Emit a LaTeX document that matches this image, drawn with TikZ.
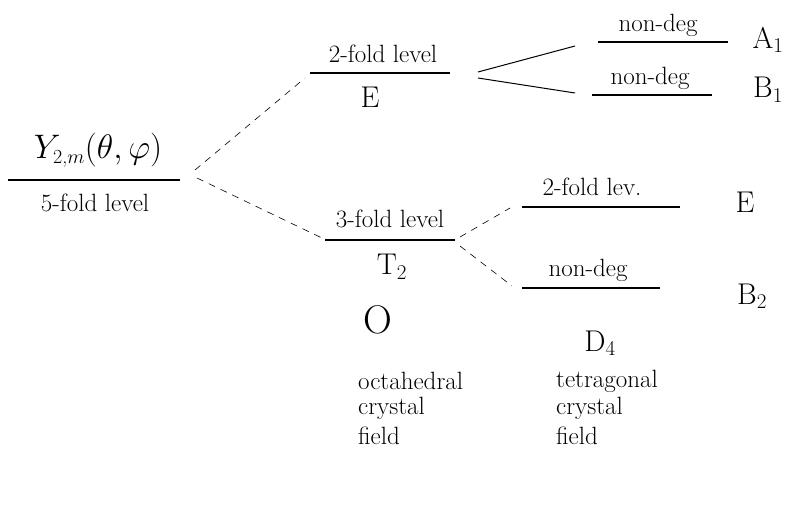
\RequirePackage{fix-cm}
\documentclass[tikz,border=0pt]{standalone}
\begin{document}
\begin{tikzpicture}[x=1pt,y=-1pt,
  txt/.style={inner sep=0pt,font=\fontsize{25}{28}\selectfont},
  big/.style={inner sep=0pt,font=\fontsize{30}{34}\selectfont},
  lvl/.style={line width=1.7pt},
  split/.style={line width=0.6pt,dash pattern=on 7pt off 6pt},
  solidsplit/.style={line width=1pt}]
\useasboundingbox (0,0) rectangle (787,509);
% left level
\coordinate (L0a) at (8,180); \coordinate (L0b) at (180,180);
\draw[lvl] (L0a) -- (L0b);
\node[big,font=\fontsize{34}{38}\selectfont] (Y) at (98,150) {$Y_{\hbox{\fontsize{20}{22}\selectfont 2,$m$}}(\theta,\varphi)$};
\node[txt] (f5) at (95,203) {5-fold level};
\coordinate (s0u) at (195,170); \coordinate (s0d) at (197,178);
% 2-fold level
\coordinate (L1a) at (310,73); \coordinate (L1b) at (450,73);
\draw[lvl] (L1a) -- (L1b);
\node[txt] (f2) at (383,54) {2-fold level};
\node[big] (E1) at (370,97) {E};
\coordinate (e1u) at (305,78);
\draw[split] (s0u) -- (e1u);
% 3-fold level
\coordinate (L2a) at (325,240); \coordinate (L2b) at (455,240);
\draw[lvl] (L2a) -- (L2b);
\node[txt] (f3) at (390,219) {3-fold level};
\node[big] (T2) at (392,267) {T$_2$};
\coordinate (t2u) at (322,238);
\draw[split] (s0d) -- (t2u);
% splitting of E
\coordinate (e1r1) at (478,72); \coordinate (e1r2) at (478,78);
\coordinate (a1l) at (575,46); \coordinate (b1l) at (575,93);
\draw[solidsplit] (e1r1) -- (a1l);
\draw[solidsplit] (e1r2) -- (b1l);
\coordinate (LA1a) at (598,42); \coordinate (LA1b) at (728,42);
\draw[lvl] (LA1a) -- (LA1b);
\node[txt] (nd1) at (658,25) {non-deg};
\node[big] (A1) at (768,40) {A$_1$};
\coordinate (LB1a) at (592,95); \coordinate (LB1b) at (712,95);
\draw[lvl] (LB1a) -- (LB1b);
\node[txt] (nd2) at (650,78) {non-deg};
\node[big] (B1) at (768,90) {B$_1$};
% splitting of T2
\coordinate (t2r1) at (460,237); \coordinate (t2r2) at (460,246);
\coordinate (el) at (510,208); \coordinate (b2l) at (512,286);
\draw[split] (t2r1) -- (el);
\draw[split] (t2r2) -- (b2l);
\coordinate (LEa) at (522,207); \coordinate (LEb) at (680,207);
\draw[lvl] (LEa) -- (LEb);
\node[txt] (f2b) at (592,187) {2-fold lev.};
\node[big] (E2) at (745,202) {E};
\coordinate (LB2a) at (522,288); \coordinate (LB2b) at (660,288);
\draw[lvl] (LB2a) -- (LB2b);
\node[txt] (nd3) at (588,270) {non-deg};
\node[big] (B2) at (752,296) {B$_2$};
% groups
\node[big,font=\fontsize{40}{44}\selectfont] (O) at (378,320) {O};
\node[big] (D4) at (600,343) {D$_4$};
\node[txt,anchor=west] (oc1) at (358,381) {octahedral};
\node[txt,anchor=west] (oc2) at (358,408) {crystal};
\node[txt,anchor=west] (oc3) at (358,436) {field};
\node[txt,anchor=west] (te1) at (556,381) {tetragonal};
\node[txt,anchor=west] (te2) at (556,408) {crystal};
\node[txt,anchor=west] (te3) at (556,436) {field};
\end{tikzpicture}
\end{document}
